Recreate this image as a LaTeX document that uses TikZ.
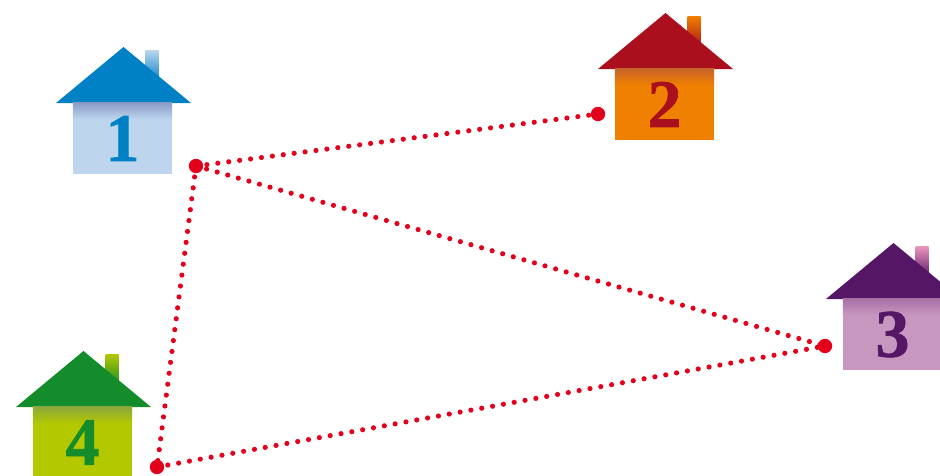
\documentclass[tikz,border=0pt]{standalone}
\usepackage{xcolor}
\usepackage{fontspec}
\newfontfamily\numberfont{Liberation Serif}[BoldFeatures={FakeBold=1}]
\definecolor{routered}{HTML}{E2001A}
\definecolor{roofone}{HTML}{0080C5}
\definecolor{wallone}{HTML}{BDD6EE}
\definecolor{bandone}{HTML}{8A9CC6}
\definecolor{rooftwo}{HTML}{AA0F1D}
\definecolor{walltwo}{HTML}{F08000}
\definecolor{bandtwo}{HTML}{C8652A}
\definecolor{roofthree}{HTML}{551666}
\definecolor{wallthree}{HTML}{C897BF}
\definecolor{bandthree}{HTML}{A871A5}
\definecolor{chimneythree}{HTML}{EE96BE}
\definecolor{rooffour}{HTML}{158C2B}
\definecolor{wallfour}{HTML}{B4C800}
\definecolor{bandfour}{HTML}{8AA93C}
\tikzset{
    wall/.style={minimum width=2.97cm, minimum height=2.13cm, inner sep=0pt},
    number/.style={inner sep=0pt, font=\fontsize{58}{58}\numberfont\bfseries},
    stop/.style={circle, fill=routered, minimum size=0.43cm, inner sep=0pt},
    route/.style={routered, line width=0.155cm, line cap=round, dash pattern=on 0pt off 0.33cm}
}
% #1 name, #2 apex, #3 roof, #4 wall, #5 band, #6 chimney, #7 number
\newcommand{\house}[7]{
    \begin{scope}[shift={#2}]
        \shade[top color=#6, bottom color=#3] (22.5,3) rectangle (35.5,35);
        \fill[#3] (-67,56) -- (0.5,0) -- (68,56) -- cycle;
        \node[wall, fill=#4] (#1) at (-0.5,91.5) {};
        \shade[top color=#5, bottom color=#4] (#1.north west) rectangle ([yshift=-0.5cm]#1.north east);
        \node[number, text=#3] (#1num) at (#1) {#7};
    \end{scope}
}

\begin{document}
\begin{tikzpicture}[x=0.03cm, y=-0.03cm]
    \useasboundingbox (0,0) rectangle (940,476);
    \clip (0,0) rectangle (940,476);

    % Houses
    \house{house1}{(123,47)}{roofone}{wallone}{bandone}{wallone}{1}
    \house{house2}{(665,13)}{rooftwo}{walltwo}{bandtwo}{walltwo}{2}
    \house{house3}{(893,243)}{roofthree}{wallthree}{bandthree}{chimneythree}{3}
    \house{house4}{(83,351)}{rooffour}{wallfour}{bandfour}{wallfour}{4}

    % Stops
    \node[stop] (stop1) at (196,166) {};
    \node[stop] (stop2) at (598,114) {};
    \node[stop] (stop3) at (825,346) {};
    \node[stop] (stop4) at (157,467) {};

    % Routes
    \draw[route] (stop1.center) -- (stop2.center);
    \draw[route] (stop1.center) -- (stop3.center);
    \draw[route] (stop1.center) -- (stop4.center);
    \draw[route] (stop4.center) -- (stop3.center);
\end{tikzpicture}
\end{document}
